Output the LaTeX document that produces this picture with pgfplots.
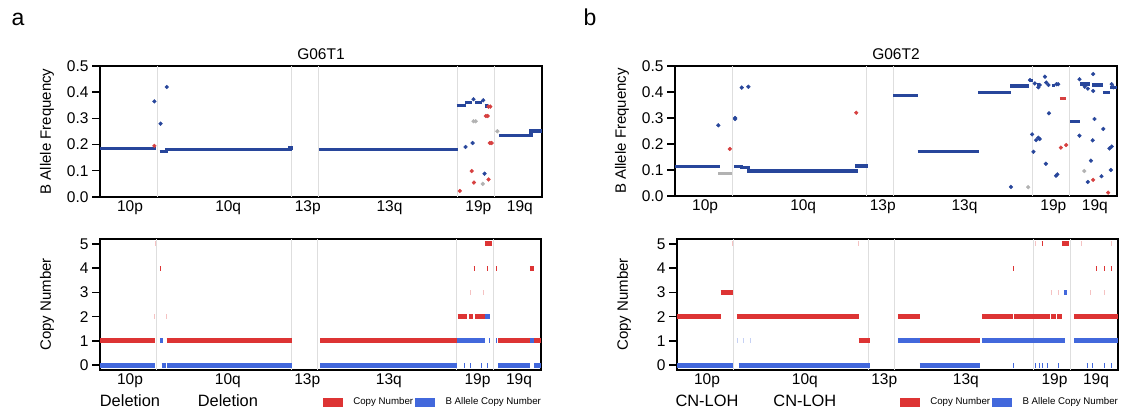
\documentclass[border=0pt]{standalone}
\usepackage{fontspec}
\setmainfont{Liberation Sans}
\usepackage{pgfplots}
\pgfplotsset{compat=1.18}

\definecolor{bafblue}{RGB}{40,70,155}
\definecolor{bafred}{RGB}{214,64,64}
\definecolor{bafgray}{RGB}{178,178,178}
\definecolor{cnred}{RGB}{221,52,52}
\definecolor{cnblue}{RGB}{66,104,220}
\definecolor{sepgray}{RGB}{222,222,222}

\newcommand{\tickfont}{\fontsize{15.5}{18}\selectfont}
\newcommand{\labfont}{\fontsize{15}{18}\selectfont}
\newcommand{\subfont}{\fontsize{16.4}{19}\selectfont}

% shared look of all four panels
\pgfplotsset{
  panel/.style={
    scale only axis, xmin=0, xmax=1000,
    axis line style={line width=1.6pt},
    tick align=outside, major tick length=8pt,
    ytick pos=left,
    ytick style={line width=1.4pt, black},
    xtick={68,290,470,655,856,950},
    xtick style={draw=none},
    xticklabel shift=-8pt,
    x tick label style={font=\tickfont, align=center},
    y tick label style={font=\tickfont},
    /pgf/number format/assume math mode=true,
    extra x ticks={129,434,493,808,893},
    extra x tick labels={},
    extra x tick style={grid=major, major tick length=0pt,
      major grid style={sepgray, line width=0.8pt}},
    clip=false,
  },
  baf/.style={panel,
    ymin=0, ymax=0.5, ytick={0,0.1,...,0.5},
    yticklabel style={/pgf/number format/.cd, fixed, fixed zerofill, precision=1},
    ylabel={B Allele Frequency},
    ylabel style={font=\labfont, at={(axis description cs:-0.12,0.5)}, anchor=center},
    title style={font=\tickfont, yshift=-3pt},
  },
  cn/.style={panel,
    ymin=-0.2, ymax=5.2, ytick={0,1,...,5},
    ylabel={Copy Number},
    ylabel style={font=\labfont, at={(axis description cs:-0.12,0.5)}, anchor=center},
    legend style={at={(axis description cs:0.505,-0.245)}, anchor=west,
      draw=none, fill=none, inner sep=0pt, legend columns=2,
      font=\fontsize{9.7}{11}\selectfont,
      /tikz/every odd column/.append style={column sep=9pt}},
  },
  seg/.style={line width=3.2pt, no marks, unbounded coords=jump},
  pts/.style={only marks, mark=*, mark size=1.9pt},
  bar/.style={line width=5pt, no marks, unbounded coords=jump, line cap=butt},
  faint/.style={opacity=0.3},
}

\begin{document}
\begin{tikzpicture}
\useasboundingbox (0pt,0pt) rectangle (1121pt,417pt);

\node[font=\fontsize{23}{26}\selectfont, anchor=base] at (18pt,391pt) {a};
\node[font=\fontsize{23}{26}\selectfont, anchor=base] at (590pt,391pt) {b};

% ---------- a: BAF ----------
\begin{axis}[baf, at={(100pt,220pt)}, anchor=south west, width=442pt, height=131pt,
  title={G06T1}, xticklabels={10p,10q,13p,13q,19p,19q}]
\addplot[seg, bafblue] coordinates {
  (0,0.185)(126,0.185)(130,nan)
  (135,0.175)(151,0.175)(151,0.18)(430,0.18)(430,0.187)(437,0.187)(440,nan)
  (495,0.18)(811,0.18)(811,nan)
  (807,0.348)(828,0.348)(828,nan)
  (826,0.361)(841,0.361)(841,nan)
  (848,0.360)(864,0.360)(864,nan)
  (870,0.347)(877,0.347)(877,nan)
  (903,0.234)(975,0.234)(975,0.252)(1000,0.252)
};
\addplot[pts, bafblue] coordinates {
  (123,0.365)(137,0.28)(151,0.42)(845,0.373)(867,0.369)
  (843,0.206)(827,0.191)(870,0.089)
};
\addplot[pts, bafred] coordinates {
  (123,0.195)(879,0.345)(883,0.345)(873,0.309)(877,0.309)(882,0.206)(886,0.206)
  (841,0.099)(879,0.067)(846,0.055)(814,0.023)
};
\addplot[pts, bafgray] coordinates {
  (845,0.289)(850,0.289)(866,0.050)(899,0.251)
};
\end{axis}

% ---------- a: copy number ----------
\begin{axis}[cn, at={(100pt,47pt)}, anchor=south west, width=441pt, height=131pt,
  xticklabels={{10p\\[4pt]\subfont Deletion},{10q\\[4pt]\subfont Deletion},13p,13q,19p,19q}]
\addlegendimage{legend image code/.code={\fill[cnred] (0pt,-4pt) rectangle (19pt,4pt);}}
\addlegendentry{Copy Number}
\addlegendimage{legend image code/.code={\fill[cnblue] (0pt,-4pt) rectangle (19pt,4pt);}}
\addlegendentry{B Allele Copy Number}
\addplot[bar, cnred] coordinates {
  (0,1)(125,1)(125,nan)(151,1)(436,1)(436,nan)(499,1)(810,1)(810,nan)
  (903,1)(975,1)(975,nan)(985,1)(1000,1)(1000,nan)
  (811,2)(833,2)(833,nan)(836,2)(846,2)(846,nan)(850,2)(873,2)(873,nan)
  (136,4)(139,4)(139,nan)(847,4)(850,4)(850,nan)(877,4)(879,4)(879,nan)
  (898,4)(900,4)(900,nan)(975,4)(984,4)(984,nan)
  (873,5)(888,5)
};
\addplot[bar, cnred, faint] coordinates {
  (125,5)(127,5)(127,nan)(122,2)(124,2)(124,nan)(150,2)(152,2)(152,nan)
  (839,3)(841,3)(841,nan)(868,3)(870,3)
};
\addplot[bar, cnblue] coordinates {
  (0,0)(125,0)(125,nan)(140,0)(149,0)(149,nan)(151,0)(436,0)(436,nan)
  (499,0)(809,0)(809,nan)(825,0)(827,0)(827,nan)(840,0)(842,0)(842,nan)
  (864,0)(866,0)(866,nan)(878,0)(880,0)(880,nan)(903,0)(975,0)(975,nan)
  (984,0)(1000,0)(1000,nan)
  (136,1)(143,1)(143,nan)(810,1)(873,1)(873,nan)(883,1)(885,1)(885,nan)
  (899,1)(901,1)(901,nan)(975,1)(985,1)(985,nan)
  (873,2)(884,2)
};
\end{axis}

% ---------- b: BAF ----------
\begin{axis}[baf, at={(675pt,221pt)}, anchor=south west, width=442pt, height=130pt,
  title={G06T2}, xticklabels={10p,10q,13p,13q,19p,19q}]
\addplot[seg, bafgray] coordinates {(98,0.087)(128,0.087)};
\addplot[seg, bafblue] coordinates {
  (0,0.113)(102,0.113)(102,nan)
  (133,0.114)(151,0.114)(151,0.109)(166,0.109)(166,0.096)(413,0.096)(413,nan)
  (407,0.115)(437,0.115)(437,nan)
  (494,0.385)(549,0.385)(549,nan)
  (549,0.170)(688,0.170)(688,nan)
  (686,0.397)(761,0.397)(761,nan)
  (759,0.423)(801,0.423)(801,nan)
  (803,0.444)(810,0.444)(810,nan)
  (818,0.428)(824,0.428)(824,nan)
  (852,0.424)(860,0.424)(860,nan)
  (894,0.288)(916,0.288)(916,nan)
  (916,0.431)(939,0.431)(939,nan)
  (943,0.427)(969,0.427)(969,nan)
  (968,0.397)(983,0.397)(983,nan)
  (985,0.418)(1000,0.418)
};
\addplot[seg, bafred] coordinates {(871,0.376)(885,0.376)};
\addplot[pts, bafblue] coordinates {
  (98,0.272)(136,0.296)(136,0.30)(151,0.417)(166,0.42)(760,0.035)
  (803,0.446)(814,0.433)(822,0.418)(825,0.427)(837,0.459)(840,0.436)
  (845,0.427)(863,0.430)(867,0.430)(846,0.318)(808,0.237)(817,0.215)
  (822,0.224)(825,0.219)(811,0.170)(839,0.124)(862,0.078)(865,0.083)
  (915,0.449)(927,0.42)(934,0.413)(946,0.469)(946,0.404)(988,0.43)(992,0.418)
  (915,0.232)(949,0.296)(969,0.258)(945,0.214)(983,0.183)(988,0.19)
  (941,0.136)(986,0.1)(965,0.076)(934,0.054)
};
\addplot[pts, bafred] coordinates {
  (124,0.181)(410,0.32)(873,0.186)(885,0.196)(946,0.062)(980,0.013)
};
\addplot[pts, bafgray] coordinates {(799,0.034)(926,0.096)};
\end{axis}

% ---------- b: copy number ----------
\begin{axis}[cn, at={(677pt,47pt)}, anchor=south west, width=441pt, height=131pt,
  xticklabels={{10p\\[4pt]\subfont CN-LOH},{10q\\[4pt]\subfont CN-LOH},13p,13q,19p,19q}]
\addlegendimage{legend image code/.code={\fill[cnred] (0pt,-4pt) rectangle (19pt,4pt);}}
\addlegendentry{Copy Number}
\addlegendimage{legend image code/.code={\fill[cnblue] (0pt,-4pt) rectangle (19pt,4pt);}}
\addlegendentry{B Allele Copy Number}
\addplot[bar, cnred] coordinates {
  (0,2)(99,2)(99,nan)(136,2)(412,2)(412,nan)(501,2)(550,2)(550,nan)
  (692,2)(762,2)(762,nan)(764,2)(845,2)(845,nan)(847,2)(860,2)(860,nan)
  (862,2)(874,2)(874,nan)(901,2)(1000,2)(1000,nan)
  (99,3)(126,3)(126,nan)
  (412,1)(438,1)(438,nan)(550,1)(688,1)(688,nan)
  (762,4)(764,4)(764,nan)(950,4)(952,4)(952,nan)(969,4)(971,4)(971,nan)
  (983,4)(985,4)(985,nan)
  (827,5)(829,5)(829,nan)(873,5)(889,5)
};
\addplot[bar, cnred, faint] coordinates {
  (125,5)(127,5)(127,nan)(411,5)(413,5)(413,nan)(847,3)(849,3)(849,nan)
  (863,3)(865,3)(865,nan)(916,5)(918,5)(918,nan)(984,5)(986,5)(986,nan)
  (937,3)(939,3)(939,nan)(968,3)(970,3)(970,nan)(812,5)(814,5)
};
\addplot[bar, cnblue] coordinates {
  (0,0)(126,0)(126,nan)(140,0)(438,0)(438,nan)(550,0)(688,0)(688,nan)
  (762,0)(764,0)(764,nan)(812,0)(814,0)(814,nan)(820,0)(822,0)(822,nan)
  (828,0)(830,0)(830,nan)(838,0)(840,0)(840,nan)(864,0)(866,0)(866,nan)
  (929,0)(931,0)(931,nan)(942,0)(944,0)(944,nan)(968,0)(970,0)(970,nan)
  (984,0)(986,0)(986,nan)
  (501,1)(550,1)(550,nan)(692,1)(879,1)(879,nan)(901,1)(1000,1)(1000,nan)
  (877,3)(885,3)
};
\addplot[bar, cnblue, faint] coordinates {
  (135,1)(137,1)(137,nan)(149,1)(151,1)(151,nan)(165,1)(167,1)
};
\end{axis}
\end{tikzpicture}
\end{document}
